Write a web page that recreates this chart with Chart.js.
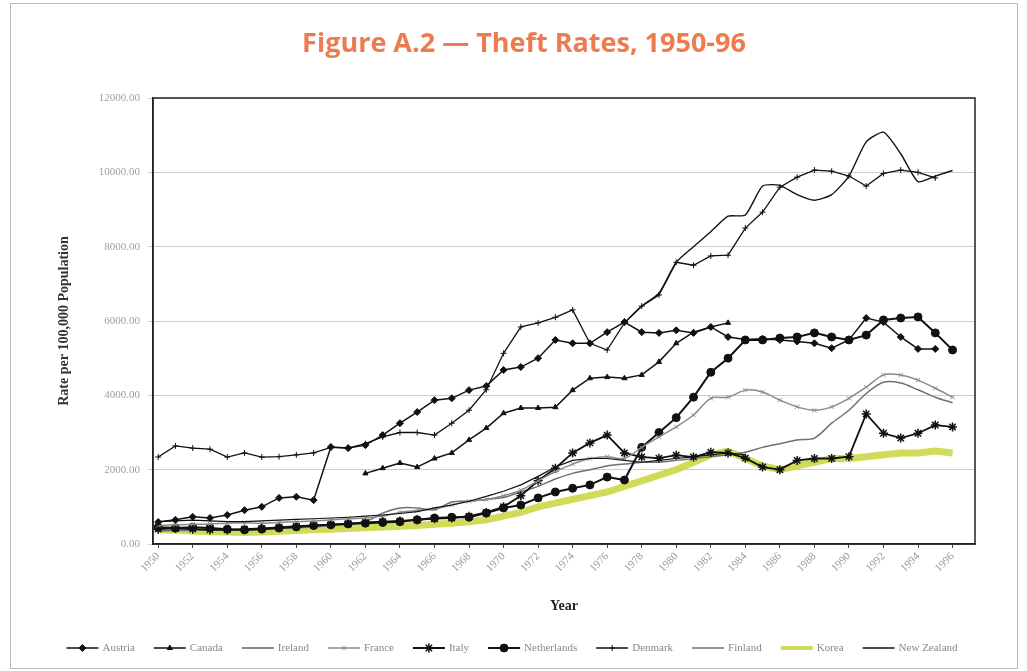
<!DOCTYPE html>
<html>
<head>
<meta charset="utf-8">
<script src="https://cdn.jsdelivr.net/npm/chart.js@4.4.1/dist/chart.umd.min.js"></script>
<style>
  html, body { margin: 0; padding: 0; background: #fff; }
  #wrap { position: relative; width: 1027px; height: 671px; }
  #frame { position: absolute; left: 10px; top: 3px; width: 1006px; height: 664px; border: 1px solid #b8b8b8; pointer-events: none; }
</style>
</head>
<body>
<div id="wrap">
  <canvas id="theftChart" width="1027" height="671"></canvas>
  <div id="frame"></div>
</div>
<script>
const years = [1950, 1951, 1952, 1953, 1954, 1955, 1956, 1957, 1958, 1959,
  1960, 1961, 1962, 1963, 1964, 1965, 1966, 1967, 1968, 1969,
  1970, 1971, 1972, 1973, 1974, 1975, 1976, 1977, 1978, 1979,
  1980, 1981, 1982, 1983, 1984, 1985, 1986, 1987, 1988, 1989,
  1990, 1991, 1992, 1993, 1994, 1995, 1996];

// rates per 100,000 population (null = no data)
const austria = [590, 650, 730, 700, 780, 910, 1000, 1240, 1270, 1180,
  2610, 2580, 2660, 2930, 3250, 3550, 3870, 3920, 4140, 4250,
  4680, 4760, 5000, 5490, 5400, 5400, 5700, 5970, 5700, 5680,
  5750, 5680, 5840, 5570, 5500, 5520, 5490, 5450, 5400, 5270,
  5490, 6080, 5970, 5570, 5250, 5250, null];
const canada = [null, null, null, null, null, null, null, null, null, null,
  null, null, 1900, 2040, 2180, 2070, 2300, 2450, 2800, 3120,
  3520, 3660, 3660, 3680, 4140, 4460, 4490, 4460, 4550, 4900,
  5400, 5700, 5840, 5950, null, null, null, null, null, null,
  null, null, null, null, null, null, null];
const ireland = [600, 620, 640, 620, 600, 600, 620, 640, 660, 680,
  700, 720, 750, 780, 820, 870, 970, 1050, 1150, 1280,
  1420, 1590, 1820, 2070, 2250, 2300, 2300, 2250, 2200, 2250,
  2300, 2350, 2400, 2450, 2400, null, null, null, null, null,
  null, null, null, null, null, null, null];
const france = [500, 520, 530, 540, 560, 570, 560, 580, 600, 620,
  650, 680, 700, 750, 850, 900, 950, 1050, 1150, 1200,
  1300, 1450, 1700, 1950, 2150, 2300, 2350, 2300, 2600, 2880,
  3150, 3470, 3920, 3950, 4140, 4090, 3870, 3690, 3600, 3690,
  3920, 4220, 4550, 4550, 4410, 4190, 3950];
const italy = [400, 420, 400, 380, 380, 400, 420, 450, 480, 500,
  520, 550, 580, 600, 620, 650, 680, 700, 750, 850,
  1000, 1300, 1700, 2040, 2450, 2720, 2930, 2450, 2340, 2310,
  2390, 2340, 2470, 2450, 2310, 2070, 2000, 2250, 2300, 2300,
  2350, 3500, 2980, 2850, 2980, 3200, 3150];
const netherlands = [450, 430, 450, 430, 400, 380, 400, 430, 460, 500,
  520, 540, 560, 580, 600, 650, 700, 720, 720, 830,
  970, 1050, 1240, 1400, 1500, 1590, 1800, 1720, 2600, 3000,
  3400, 3950, 4620, 5000, 5490, 5490, 5540, 5570, 5680, 5570,
  5490, 5620, 6030, 6080, 6110, 5680, 5220];
const denmark = [2340, 2640, 2580, 2550, 2340, 2450, 2340, 2350, 2400, 2450,
  2600, 2580, 2700, 2880, 3000, 3000, 2930, 3250, 3600, 4150,
  5130, 5840, 5950, 6100, 6300, 5400, 5220, 5950, 6400, 6700,
  7580, 7500, 7750, 7770, 8500, 8930, 9600, 9870, 10060, 10030,
  9900, 9630, 9970, 10060, 10000, 9850, null];
const finland = [350, 360, 370, 380, 380, 390, 400, 420, 440, 460,
  500, 540, 600, 830, 970, 970, 920, 1130, 1150, 1200,
  1250, 1400, 1550, 1750, 1900, 2000, 2100, 2150, 2200, 2200,
  2250, 2300, 2350, 2400, 2470, 2600, 2700, 2800, 2850, 3250,
  3600, 4050, 4350, 4330, 4150, 3950, 3800];
const korea = [380, 370, 350, 330, 320, 310, 320, 340, 360, 380,
  400, 420, 440, 460, 480, 500, 530, 560, 600, 650,
  750, 850, 1000, 1100, 1200, 1300, 1400, 1550, 1700, 1850,
  2000, 2200, 2400, 2500, 2300, 2100, 2000, 2100, 2200, 2300,
  2300, 2350, 2400, 2450, 2450, 2500, 2450];
const newZealand = [null, null, null, null, null, null, null, null, null, null,
  null, null, null, null, null, null, null, null, null, null,
  null, null, null, null, null, null, null, 5950, 6400, 6750,
  7580, 8000, 8400, 8820, 8850, 9630, 9650, 9400, 9250, 9400,
  9900, 10820, 11080, 10500, 9750, 9900, 10050];

const yTicks = [0, 2000, 4000, 6000, 8000, 10000, 12000];

const serif = "'Liberation Serif', 'DejaVu Serif', serif";

function pts(values) {
  return years.map((yr, i) => ({ x: yr, y: values[i] }));
}

function series(label, values, opts) {
  return Object.assign({
    label: label,
    data: pts(values),
    yAxisID: 'y',
    borderColor: '#111',
    backgroundColor: '#111',
    pointBackgroundColor: '#111',
    pointBorderColor: '#111',
    borderWidth: 1.5,
    pointRadius: 0,
    pointBorderWidth: 1,
    pointStyle: 'circle',
    tension: 0,
    spanGaps: false,
    order: 1
  }, opts);
}

const datasets = [
  series('Austria', austria, { pointStyle: 'rectRot', pointRadius: 3.5 }),
  series('Canada', canada, { pointStyle: 'triangle', pointRadius: 3 }),
  series('Ireland', ireland, { borderWidth: 1.2 }),
  series('France', france, { borderColor: '#8a8a8a', pointBorderColor: '#8a8a8a', pointBackgroundColor: '#8a8a8a',
    pointStyle: 'crossRot', pointRadius: 3, tension: 0.3 }),
  series('Italy', italy, { borderWidth: 1.8, pointStyle: 'star', pointRadius: 4.5, pointBorderWidth: 1.5 }),
  series('Netherlands', netherlands, { borderWidth: 2, pointStyle: 'circle', pointRadius: 4 }),
  series('Denmark', denmark, { borderWidth: 1.3, pointStyle: 'cross', pointRadius: 3 }),
  series('Finland', finland, { borderColor: '#707070', borderWidth: 1.5, tension: 0.3 }),
  series('Korea', korea, { borderColor: 'rgba(200,214,58,0.85)', backgroundColor: 'rgba(200,214,58,0.85)',
    borderWidth: 7, order: 10 }),
  series('New Zealand', newZealand, { borderWidth: 1.4, tension: 0.2 })
];

// black box round the plot area
const plotFrame = {
  id: 'plotFrame',
  beforeDatasetsDraw(chart) {
    const { ctx, chartArea: a } = chart;
    ctx.save();
    ctx.strokeStyle = '#222';
    ctx.lineWidth = 1.5;
    ctx.strokeRect(a.left, a.top, a.right - a.left, a.bottom - a.top);
    ctx.restore();
  }
};

// legend with a line segment and marker per series, like the original
const lineLegend = {
  id: 'lineLegend',
  afterDraw(chart) {
    const ctx = chart.ctx;
    const y = 648;
    const seg = 32;
    const gap = 19;
    ctx.save();
    ctx.font = '11px ' + serif;
    ctx.textBaseline = 'middle';
    const items = chart.data.datasets.map(ds => ({ ds, w: seg + 4 + ctx.measureText(ds.label).width }));
    const total = items.reduce((s, it) => s + it.w, 0) + gap * (items.length - 1);
    let x = 512 - total / 2;
    items.forEach(({ ds, w }) => {
      ctx.strokeStyle = ds.borderColor;
      ctx.lineWidth = Math.min(ds.borderWidth, 4);
      ctx.beginPath();
      ctx.moveTo(x, y);
      ctx.lineTo(x + seg, y);
      ctx.stroke();
      if (ds.pointRadius > 0) {
        ctx.fillStyle = ds.pointBackgroundColor;
        ctx.strokeStyle = ds.pointBorderColor;
        ctx.lineWidth = ds.pointBorderWidth;
        Chart.helpers.drawPoint(ctx, { pointStyle: ds.pointStyle, radius: ds.pointRadius, rotation: 0, borderWidth: ds.pointBorderWidth }, x + seg / 2, y);
      }
      ctx.fillStyle = '#888';
      ctx.fillText(ds.label, x + seg + 4, y);
      x += w + gap;
    });
    ctx.restore();
  }
};

new Chart(document.getElementById('theftChart'), {
  type: 'line',
  data: { datasets },
  plugins: [plotFrame, lineLegend],
  options: {
    responsive: false,
    animation: false,
    layout: { padding: { left: 21, right: 0, top: 0, bottom: 42 } },
    plugins: {
      legend: { display: false },
      tooltip: { enabled: false },
      title: {
        display: true,
        text: 'Figure A.2 \u2014 Theft Rates, 1950-96',
        color: '#ec7b50',
        font: { family: "'Open Sans', Lato, sans-serif", size: 27, weight: 'bold', lineHeight: 1.2 },
        padding: { top: 28, bottom: 37.6 }
      }
    },
    scales: {
      x: {
        type: 'linear',
        min: 1949.7,
        max: 1997.3,
        afterFit(s) { s.height = 85; },
        ticks: {
          stepSize: 2,
          includeBounds: false,
          autoSkip: false,
          minRotation: 45,
          maxRotation: 45,
          padding: 2,
          color: '#999',
          font: { family: serif, size: 11 },
          callback: v => String(v)
        },
        grid: { drawOnChartArea: false, tickLength: 4, color: '#444' },
        border: { color: '#222', width: 1.5 },
        title: {
          display: true,
          text: 'Year',
          color: '#222',
          font: { family: serif, size: 14, weight: 'bold' },
          padding: { top: 4, bottom: 14 }
        }
      },
      y: {
        min: 0,
        max: 12000,
        afterFit(s) { s.width = 132; },
        afterBuildTicks(s) { s.ticks = yTicks.map(v => ({ value: v })); },
        ticks: {
          padding: 8,
          color: '#a0a0a0',
          font: { family: serif, size: 11 },
          callback: v => Number(v).toFixed(2)
        },
        grid: { color: '#cdcdcd', tickLength: 5 },
        border: { color: '#222', width: 1.5 },
        title: {
          display: true,
          text: 'Rate per 100,000 Population',
          color: '#333',
          font: { family: serif, size: 14, weight: 'bold' },
          padding: { top: 35, bottom: 0 }
        }
      },
      // empty right-hand margin so the plot ends where the original does
      y2: {
        position: 'right',
        min: 0,
        max: 12000,
        afterFit(s) { s.width = 52; },
        ticks: { display: false },
        grid: { display: false },
        border: { display: false }
      }
    }
  }
});
</script>
</body>
</html>
